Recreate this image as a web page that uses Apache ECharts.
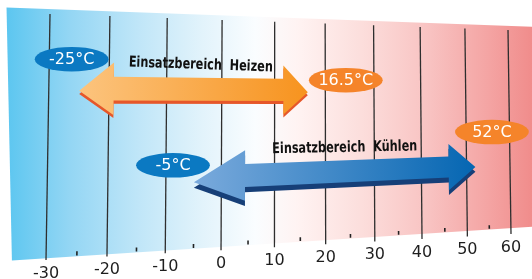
<!DOCTYPE html>
<html>
<head>
<meta charset="utf-8">
<title>Einsatzbereich</title>
<script src="https://cdn.jsdelivr.net/npm/echarts@6/dist/echarts.min.js"></script>
<style>html,body{margin:0;padding:0;background:#fff;}</style>
</head>
<body>
<div id="chart" style="width:532px;height:279px;"></div>
<script type="text/javascript">
// temperature scale (°C)
var ticks = [-30, -20, -10, 0, 10, 20, 30, 40, 50, 60];
var minorTicks = [-25, -15, -5, 5, 15, 25, 35, 45, 55];
// operating ranges
var rangeNames = ['Einsatzbereich  Heizen', 'Einsatzbereich  Kühlen'];
var rangeFrom = [-25, -5];
var rangeTo = [16.5, 52];
var fromLabels = ['-25°C', '-5°C'];
var toLabels = ['16.5°C', '52°C'];

// the picture is drawn in perspective: the -30 / 60 grid lines go to this quad (tl, tr, br, bl)
var quad = [[50, 14], [508, 30], [511, 234], [46, 260]];
function makeH(q) {
    var x0 = q[0][0], y0 = q[0][1], x1 = q[1][0], y1 = q[1][1];
    var x2 = q[2][0], y2 = q[2][1], x3 = q[3][0], y3 = q[3][1];
    var dx1 = x1 - x2, dx2 = x3 - x2, dx3 = x0 - x1 + x2 - x3;
    var dy1 = y1 - y2, dy2 = y3 - y2, dy3 = y0 - y1 + y2 - y3;
    var den = dx1 * dy2 - dx2 * dy1;
    var g = (dx3 * dy2 - dx2 * dy3) / den, h = (dx1 * dy3 - dx3 * dy1) / den;
    return {a: x1 - x0 + g * x1, b: x3 - x0 + h * x3, c: x0,
            d: y1 - y0 + g * y1, e: y3 - y0 + h * y3, f: y0, g: g, h: h};
}
var H = makeH(quad);
function warp(p, cs) {
    var u = (p[0] - cs.x) / cs.width, v = (p[1] - cs.y) / cs.height;
    var w = H.g * u + H.h * v + 1;
    return [(H.a * u + H.b * v + H.c) / w, (H.d * u + H.e * v + H.f) / w];
}
function pt(api, cs, t, lv) { return warp(api.coord([t, lv]), cs); }
// lower edge of the coloured band (in level units)
function bottomLevel(t) { return 0.6 + (t + 36) / 102 * 2.4; }

// arrow layout per range: shaft centre level at both ends, head lengths, tip offset, shadow
var arrowStyle = [
    {cl: 69.5, cr: 69.5, hl: 5.8, hr: 4.8, hh: 11, sh: 5, tipL: -1, tipR: -1, shadow: 1.3,
     colors: ['#fcc47e', '#f7931e'], shadowColor: '#e6572a'},
    {cl: 31.5, cr: 33.5, hl: 9.4, hr: 6, hh: 11, sh: 5, tipL: -2, tipR: -0.5, shadow: 2.3,
     colors: ['#7aaadc', '#0566b2'], shadowColor: '#163f78'}
];
var nameLevel = [80, 43.2];
var nameRot = [-0.035, 0.02];
var fromPos = [{lv: 81.6, dx: -8}, {lv: 36.8, dx: -21}];
var toPos = [{lv: 74, dx: 38}, {lv: 49.8, dx: 17}];

function arrowPoly(api, cs, lo, hi, s, off) {
    function c(t) { return s.cl + (s.cr - s.cl) * (t - lo) / (hi - lo) - off; }
    var a = lo + s.hl, b = hi - s.hr;
    var P = [
        [lo, c(lo) + s.tipL], [a, c(a) + s.hh], [a, c(a) + s.sh], [b, c(b) + s.sh], [b, c(b) + s.hh],
        [hi, c(hi) + s.tipR], [b, c(b) - s.hh], [b, c(b) - s.sh], [a, c(a) - s.sh], [a, c(a) - s.hh]
    ];
    return P.map(function (p) { return pt(api, cs, p[0], p[1]); });
}

var chart = echarts.init(document.getElementById('chart'));
var option = {
    animation: false,
    grid: {left: 46, right: 21, top: 14, bottom: 19},
    xAxis: {type: 'value', min: -30, max: 60, show: false},
    yAxis: {type: 'value', min: 0, max: 100, show: false},
    series: [
        {   // background band
            type: 'custom', data: [[0, 0]],
            renderItem: function (params, api) {
                var cs = params.coordSys;
                var P = [[-37, 102], [66, 102], [66, bottomLevel(66)], [-35.4, bottomLevel(-36)]]
                    .map(function (p) { return pt(api, cs, p[0], p[1]); });
                return {type: 'polygon', shape: {points: P}, style: {
                    fill: new echarts.graphic.LinearGradient(0, 0, 1, 0, [
                        {offset: 0, color: '#5cc6f0'},
                        {offset: 0.12, color: '#94d6f4'},
                        {offset: 0.25, color: '#c0e6f8'},
                        {offset: 0.37, color: '#e2f3fb'},
                        {offset: 0.47, color: '#fafdff'},
                        {offset: 0.55, color: '#fff3f2'},
                        {offset: 0.67, color: '#fcdedc'},
                        {offset: 0.8, color: '#f8c2c1'},
                        {offset: 0.91, color: '#f4a4a3'},
                        {offset: 1, color: '#f08a89'}
                    ])}};
            }
        },
        {   // grid lines and tick labels
            type: 'custom', data: ticks.map(function (t) { return [t, 0]; }),
            renderItem: function (params, api) {
                var cs = params.coordSys, t = api.value(0);
                var a = pt(api, cs, t, 100), b = pt(api, cs, t, 0);
                return {type: 'group', children: [
                    {type: 'line', shape: {x1: a[0], y1: a[1], x2: b[0], y2: b[1]},
                     style: {stroke: '#2e2e2e', lineWidth: 1.3}},
                    {type: 'text', x: b[0], y: b[1] + 13.5, style: {text: String(t), fill: '#1e1e1e',
                     fontSize: 16, fontFamily: 'DejaVu Sans', align: 'center', verticalAlign: 'middle'}}
                ]};
            }
        },
        {   // minor ticks
            type: 'custom', data: minorTicks.map(function (t) { return [t, 0]; }),
            renderItem: function (params, api) {
                var cs = params.coordSys, t = api.value(0), lb = bottomLevel(t);
                var a = pt(api, cs, t, lb + 2), b = pt(api, cs, t, lb + 0.3);
                return {type: 'line', shape: {x1: a[0], y1: a[1], x2: b[0], y2: b[1]},
                        style: {stroke: '#222', lineWidth: 1.6}};
            }
        },
        {   // range arrows
            type: 'custom', data: rangeFrom.map(function (f, i) { return [f, rangeTo[i], i]; }),
            renderItem: function (params, api) {
                var cs = params.coordSys, lo = api.value(0), hi = api.value(1), s = arrowStyle[api.value(2)];
                return {type: 'group', children: [
                    {type: 'polygon', shape: {points: arrowPoly(api, cs, lo, hi, s, s.shadow)},
                     style: {fill: s.shadowColor}},
                    {type: 'polygon', shape: {points: arrowPoly(api, cs, lo, hi, s, 0)},
                     style: {fill: new echarts.graphic.LinearGradient(0, 0, 1, 0, [
                         {offset: 0, color: s.colors[0]}, {offset: 1, color: s.colors[1]}])}}
                ]};
            }
        },
        {   // range names
            type: 'custom', data: rangeFrom.map(function (f, i) { return [f, rangeTo[i], i]; }),
            renderItem: function (params, api) {
                var cs = params.coordSys, i = api.value(2);
                var p = pt(api, cs, (api.value(0) + api.value(1)) / 2, nameLevel[i]);
                return {type: 'text', x: p[0] + 2, y: p[1], scaleX: 0.75, rotation: nameRot[i],
                        style: {text: rangeNames[i], fill: '#111', fontSize: 15, fontWeight: 'bold',
                                fontFamily: 'DejaVu Sans', align: 'center', verticalAlign: 'middle'}};
            }
        },
        {   // end-point bubbles
            type: 'custom',
            data: rangeFrom.map(function (f, i) { return [f, 0, i, 0]; })
                .concat(rangeTo.map(function (f, i) { return [f, 0, i, 1]; })),
            renderItem: function (params, api) {
                var cs = params.coordSys, t = api.value(0), i = api.value(2), isTo = api.value(3);
                var pos = isTo ? toPos[i] : fromPos[i];
                var p = pt(api, cs, t, pos.lv);
                var x = p[0] + pos.dx, y = p[1];
                return {type: 'group', children: [
                    {type: 'circle', x: x, y: y, scaleX: 3.0, scaleY: 1.0, shape: {cx: 0, cy: 0, r: 12.3},
                     style: {fill: isTo ? '#f5842a' : '#0b79c2'}},
                    {type: 'text', x: x, y: y + 1, style: {text: isTo ? toLabels[i] : fromLabels[i],
                     fill: '#fff', fontSize: 16, fontFamily: 'DejaVu Sans', align: 'center', verticalAlign: 'middle'}}
                ]};
            }
        }
    ]
};
chart.setOption(option);
</script>
</body>
</html>
